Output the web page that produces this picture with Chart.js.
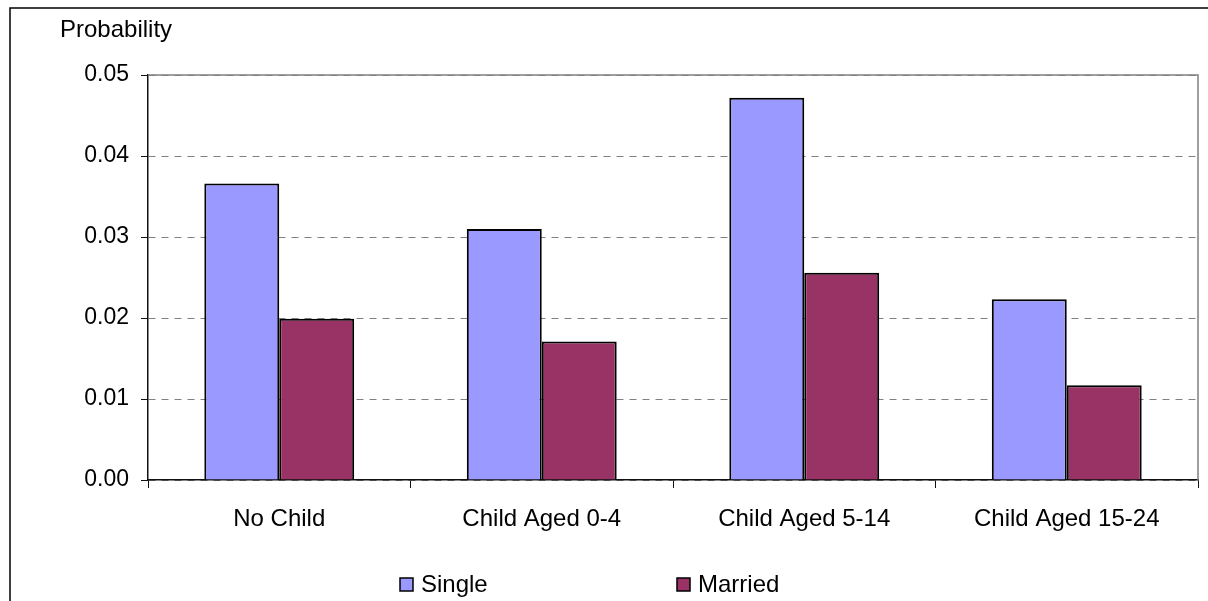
<!DOCTYPE html>
<html>
<head>
<meta charset="utf-8">
<script src="https://cdn.jsdelivr.net/npm/chart.js@4"></script>
<style>
  html, body { margin: 0; padding: 0; background: #fff; }
  canvas { display: block; }
</style>
</head>
<body>
<canvas id="prob-chart" width="1208" height="601"></canvas>
<script>
// categories and series
const categories = ["No Child", "Child Aged 0-4", "Child Aged 5-14", "Child Aged 15-24"];
const single = [0.0366, 0.0310, 0.0472, 0.0223];
const married = [0.0199, 0.0171, 0.0256, 0.0117];
const yTicks = [0.00, 0.01, 0.02, 0.03, 0.04, 0.05];
const yTitle = "Probability";

const font = "Arial, 'Liberation Sans', sans-serif";

// outer frame, plot frame, y title and legend
const decorations = {
  id: "decorations",
  beforeDraw(chart) {
    const ctx = chart.ctx;
    ctx.save();
    ctx.fillStyle = "#fff";
    ctx.fillRect(0, 0, chart.width, chart.height);
    ctx.strokeStyle = "#000";
    ctx.lineWidth = 1.5;
    ctx.beginPath();
    ctx.moveTo(10, chart.height);
    ctx.lineTo(10, 8);
    ctx.lineTo(chart.width, 8);
    ctx.stroke();
    ctx.restore();
  },
  afterDraw(chart) {
    const ctx = chart.ctx;
    const a = chart.chartArea;
    ctx.save();
    // top and right edge of plot area
    ctx.strokeStyle = "#808080";
    ctx.lineWidth = 1.5;
    ctx.beginPath();
    ctx.moveTo(a.left, a.top);
    ctx.lineTo(a.right, a.top);
    ctx.lineTo(a.right, a.bottom);
    ctx.stroke();

    ctx.fillStyle = "#000";
    ctx.font = "24px " + font;
    ctx.textBaseline = "alphabetic";
    ctx.textAlign = "left";
    ctx.fillText(yTitle, 60, 37);

    // legend
    const xs = [400, 677];
    chart.data.datasets.forEach((ds, i) => {
      ctx.fillStyle = ds.backgroundColor;
      ctx.fillRect(xs[i], 578, 13, 13);
      ctx.strokeStyle = "#000";
      ctx.lineWidth = 1.5;
      ctx.strokeRect(xs[i], 578, 13, 13);
      ctx.fillStyle = "#000";
      ctx.fillText(ds.label, xs[i] + 21, 592);
    });
    ctx.restore();
  }
};

new Chart(document.getElementById("prob-chart"), {
  type: "bar",
  data: {
    labels: categories,
    datasets: [
      {
        label: "Single",
        data: single,
        backgroundColor: "#9999FF",
        borderColor: "#000",
        borderWidth: 2,
        categoryPercentage: 0.571,
        barPercentage: 1.0
      },
      {
        label: "Married",
        data: married,
        backgroundColor: "#993366",
        borderColor: "#000",
        borderWidth: 2,
        categoryPercentage: 0.571,
        barPercentage: 1.0
      }
    ]
  },
  options: {
    responsive: false,
    animation: false,
    layout: { padding: { top: 75, right: 10, left: 0, bottom: 0 } },
    plugins: {
      legend: { display: false },
      tooltip: { enabled: false }
    },
    scales: {
      x: {
        grid: {
          offset: true,
          drawOnChartArea: false,
          drawTicks: true,
          tickLength: 8,
          color: "#111",
          lineWidth: 1
        },
        border: { color: "#111", width: 1.5 },
        ticks: {
          font: { family: font, size: 24 },
          color: "#000",
          padding: 17,
          maxRotation: 0
        },
        afterFit: s => { s.height = 121; }
      },
      y: {
        min: 0,
        max: 0.05,
        afterBuildTicks: s => { s.ticks = yTicks.map(v => ({ value: v })); },
        ticks: {
          font: { family: font, size: 23 },
          color: "#000",
          padding: 12,
          callback: v => Number(v).toFixed(2)
        },
        grid: {
          color: "#808080",
          lineWidth: 1,
          tickColor: "#111",
          tickLength: 7,
          tickBorderDash: []
        },
        border: { color: "#111", width: 1.5, dash: [7, 6] },
        afterFit: s => { s.width = 148; }
      }
    }
  },
  plugins: [decorations]
});
</script>
</body>
</html>
